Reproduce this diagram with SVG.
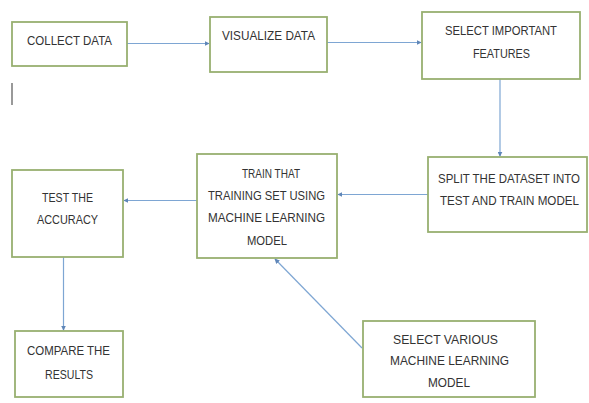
<svg xmlns="http://www.w3.org/2000/svg" width="589" height="403" viewBox="0 0 589 403">
  <style>
    .box { fill: #ffffff; stroke: #98b070; stroke-width: 1.8; }
    .lbl { font-family: "Liberation Sans", Arial, sans-serif; font-size: 13px; fill: #333333; text-anchor: middle; }
    .lbl.sm { font-size: 12px; }
    .conn { fill: none; stroke: #7ea6d3; stroke-width: 1.2; }
  </style>
  <defs>
    <marker id="tip" viewBox="0 0 8 8" refX="7" refY="4" markerWidth="5" markerHeight="5" orient="auto" markerUnits="userSpaceOnUse">
      <path d="M0,0 L8,4 L0,8 z" fill="#5f86b8"/>
    </marker>
  </defs>
  <rect width="589" height="403" fill="#ffffff"/>

  <!-- flow connectors -->
  <g id="connectors">
    <line class="conn" x1="127" y1="43.5" x2="209" y2="43.5" marker-end="url(#tip)"/>
    <line class="conn" x1="327" y1="42.5" x2="421" y2="42.5" marker-end="url(#tip)"/>
    <line class="conn" x1="500" y1="79" x2="500" y2="156" marker-end="url(#tip)"/>
    <line class="conn" x1="428" y1="194.5" x2="338" y2="194.5" marker-end="url(#tip)"/>
    <line class="conn" x1="197" y1="200.5" x2="124" y2="200.5" marker-end="url(#tip)"/>
    <line class="conn" x1="63.5" y1="257" x2="63.5" y2="330" marker-end="url(#tip)"/>
    <line class="conn" x1="362" y1="348" x2="275" y2="259" marker-end="url(#tip)"/>
  </g>

  <!-- stray cursor mark -->
  <line x1="12" y1="83" x2="12" y2="105" stroke="#555555" stroke-width="1.2"/>

  <g id="collect-data">
    <rect class="box" x="12" y="22" width="115" height="44"/>
    <text class="lbl" x="69.5" y="44.5" textLength="85" lengthAdjust="spacingAndGlyphs">COLLECT DATA</text>
  </g>

  <g id="visualize-data">
    <rect class="box" x="210" y="17" width="117" height="55"/>
    <text class="lbl" x="268.5" y="39.5" textLength="93" lengthAdjust="spacingAndGlyphs">VISUALIZE DATA</text>
  </g>

  <g id="select-features">
    <rect class="box" x="422" y="12" width="158" height="67"/>
    <text class="lbl" x="501" y="34.5" textLength="112" lengthAdjust="spacingAndGlyphs">SELECT IMPORTANT</text>
    <text class="lbl" x="501.5" y="57.5" textLength="57" lengthAdjust="spacingAndGlyphs">FEATURES</text>
  </g>

  <g id="split-dataset">
    <rect class="box" x="428" y="157" width="159" height="75"/>
    <text class="lbl sm" x="509" y="182.5" textLength="142" lengthAdjust="spacingAndGlyphs">SPLIT THE DATASET INTO</text>
    <text class="lbl sm" x="509.5" y="204.5" textLength="139" lengthAdjust="spacingAndGlyphs">TEST AND TRAIN MODEL</text>
  </g>

  <g id="train-model">
    <rect class="box" x="197" y="154" width="140" height="104"/>
    <text class="lbl" x="271" y="177.5" textLength="58" lengthAdjust="spacingAndGlyphs">TRAIN THAT</text>
    <text class="lbl" x="266.5" y="199.5" textLength="117" lengthAdjust="spacingAndGlyphs">TRAINING SET USING</text>
    <text class="lbl" x="266.5" y="221.5" textLength="117" lengthAdjust="spacingAndGlyphs">MACHINE LEARNING</text>
    <text class="lbl" x="267" y="244.5" textLength="40" lengthAdjust="spacingAndGlyphs">MODEL</text>
  </g>

  <g id="test-accuracy">
    <rect class="box" x="12" y="170" width="111" height="87"/>
    <text class="lbl" x="67.5" y="201.5" textLength="51" lengthAdjust="spacingAndGlyphs">TEST THE</text>
    <text class="lbl" x="67.5" y="223.5" textLength="61" lengthAdjust="spacingAndGlyphs">ACCURACY</text>
  </g>

  <g id="compare-results">
    <rect class="box" x="15" y="331" width="108" height="66"/>
    <text class="lbl" x="68.5" y="354.5" textLength="83" lengthAdjust="spacingAndGlyphs">COMPARE THE</text>
    <text class="lbl" x="69" y="378.5" textLength="48" lengthAdjust="spacingAndGlyphs">RESULTS</text>
  </g>

  <g id="select-models">
    <rect class="box" x="363" y="321" width="172" height="76"/>
    <text class="lbl" x="445.5" y="343.5" textLength="105" lengthAdjust="spacingAndGlyphs">SELECT VARIOUS</text>
    <text class="lbl" x="449.5" y="364.5" textLength="119" lengthAdjust="spacingAndGlyphs">MACHINE LEARNING</text>
    <text class="lbl" x="449" y="386.5" textLength="42" lengthAdjust="spacingAndGlyphs">MODEL</text>
  </g>
</svg>
